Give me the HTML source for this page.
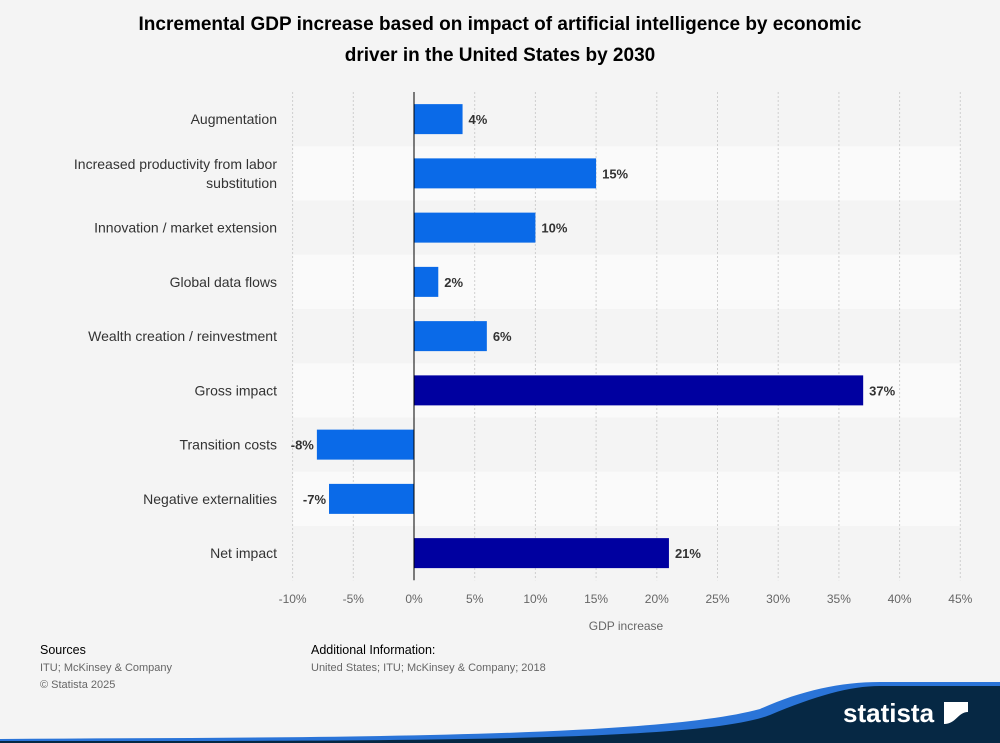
<!DOCTYPE html>
<html><head><meta charset="utf-8"><style>
body{margin:0;background:#f4f4f4;font-family:"Liberation Sans",Arial,sans-serif;}
#wrap{position:relative;width:1000px;height:743px;overflow:hidden;background:#f4f4f4}
svg text{font-family:"Liberation Sans",Arial,sans-serif}
</style></head><body>
<div id="wrap">
<svg id="chart" width="1000" height="743"></svg>
</div>
<script>
const categories=["Augmentation","Increased productivity from labor|substitution","Innovation / market extension","Global data flows","Wealth creation / reinvestment","Gross impact","Transition costs","Negative externalities","Net impact"];
const values=[4,15,10,2,6,37,-8,-7,21];
const dark=[false,false,false,false,false,true,false,false,true];
const ticks=[-10,-5,0,5,10,15,20,25,30,35,40,45];

const NS="http://www.w3.org/2000/svg";
const svg=document.getElementById('chart');
function el(t,a,p){const e=document.createElementNS(NS,t);for(const k in a)e.setAttribute(k,a[k]);(p||svg).appendChild(e);return e;}
const x0=414,pxPer=12.14,topY=92,rowH=54.25;
const xs=v=>x0+v*pxPer;
const yc=i=>topY+rowH*(i+0.5);

let t=el('text',{x:500,y:30,'text-anchor':'middle','font-size':19,'font-weight':'bold',fill:'#000'});
t.textContent="Incremental GDP increase based on impact of artificial intelligence by economic";


t=el('text',{x:500,y:61,'text-anchor':'middle','font-size':19,'font-weight':'bold',fill:'#000'});
t.textContent="driver in the United States by 2030";



categories.forEach((c,i)=>{
  if(i%2===1){const b=el('rect',{x:xs(-10),y:topY+rowH*i,width:xs(45)-xs(-10),height:rowH,fill:'#fafafa'});
  
  }
});
ticks.forEach(v=>{
  const l=el('line',{x1:xs(v),x2:xs(v),y1:topY,y2:topY+rowH*9,stroke:'#cfcfcf','stroke-dasharray':'2,2'});
  
  
  const tt=el('text',{x:xs(v),y:603,'text-anchor':'middle','font-size':12,fill:'#666'});
  tt.textContent=v+'%';
  
  
});
categories.forEach((c,i)=>{
  const v=values[i];
  const r=el('rect',{x:Math.min(xs(0),xs(v)),y:yc(i)-15,width:Math.abs(xs(v)-xs(0)),height:30,fill:dark[i]?'#0000a0':'#0a6ae8'});
  
  
  const lab=el('text',{x:v>=0?xs(v)+6:xs(v)-3,y:yc(i)+5,'font-size':13,'font-weight':'bold',fill:'#333','text-anchor':v>=0?'start':'end'});
  lab.textContent=v+'%';
  
  
  const parts=c.split('|');
  parts.forEach((p,k)=>{
    const ct=el('text',{x:277,y:yc(i)+5+(k-(parts.length-1)/2)*19,'text-anchor':'end','font-size':14,fill:'#333'});
    ct.textContent=p;
    
    
  });
});
const ax=el('line',{x1:x0,x2:x0,y1:topY,y2:topY+rowH*9,stroke:'#000','stroke-width':1});


t=el('text',{x:626,y:630,'text-anchor':'middle','font-size':12,fill:'#666'});t.textContent="GDP increase";


[[40,654,"Sources",'#000',12.5],[40,671,"ITU; McKinsey & Company",'#666',11],[40,688,"© Statista 2025",'#666',11],[311,654,"Additional Information:",'#000',12.5],[311,671,"United States; ITU; McKinsey & Company; 2018",'#666',11]].forEach(a=>{
  const f=el('text',{x:a[0],y:a[1],'font-size':a[4],fill:a[3]});f.textContent=a[2];
  
  
});
const bl=el('path',{d:'M0 743 L0 739 C300 737 650 739 760 709 C800 691 840 682 880 682 L1000 682 L1000 743 Z',fill:'#2a74d8'});


const nv=el('path',{d:'M0 743 L0 741 C400 741 700 742 770 715 C815 696 850 686 880 686 L1000 686 L1000 743 Z',fill:'#062844'});


t=el('text',{x:843,y:722,'font-size':26,'font-weight':'bold',fill:'#fff'});t.textContent="statista";


const ic=el('path',{d:'M944 702 L968 702 L968 712 C958 712 956 724 944 724 Z',fill:'#fff'});


</script>
</body></html>
